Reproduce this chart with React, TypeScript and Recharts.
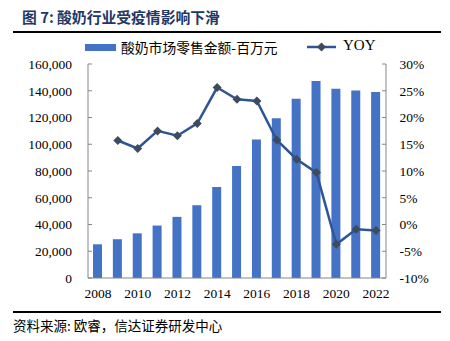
import { Bar, ComposedChart, Line, XAxis, YAxis } from "recharts";

const years = ["2008", "2009", "2010", "2011", "2012", "2013", "2014", "2015", "2016", "2017", "2018", "2019", "2020", "2021", "2022"];
const sales = [25200, 29000, 33400, 39200, 45700, 54400, 68100, 83800, 103500, 119500, 134000, 147200, 141500, 140200, 139000];
const yoy = [null, 15.7, 14.2, 17.5, 16.6, 18.9, 25.6, 23.4, 23.1, 15.8, 12.2, 9.7, -3.7, -0.9, -1.1];
const leftTicks = [0, 20000, 40000, 60000, 80000, 100000, 120000, 140000, 160000];
const rightTicks = [-10, -5, 0, 5, 10, 15, 20, 25, 30];

const BAR = "#4472C4";
const LINE = "#2F5597";
const MARK = "#3E4B5E";
const AXIS = "#868686";
const SERIF = '"Liberation Serif", "Times New Roman", serif';
const CJK = '"Noto Sans CJK SC", sans-serif';

const data = years.map((y, i) => ({ year: y, sales: sales[i], yoy: yoy[i] }));

const Diamond = (props: any) => {
  const { cx, cy } = props;
  if (cx == null || cy == null || props.value == null) return null;
  const r = 4.5;
  return <path d={`M${cx},${cy - r}L${cx + r},${cy}L${cx},${cy + r}L${cx - r},${cy}Z`} fill={MARK} />;
};

const tickStyle = { fontFamily: SERIF, fontSize: 13.5, fill: "#000" };

export default function App() {
  return (
    <div style={{ position: "absolute", left: 0, top: 0, width: 450, height: 341, background: "#fff" }}>
      <div style={{ position: "absolute", left: 22, top: 6, fontFamily: CJK, fontWeight: 700, fontSize: 14.8, color: "#1F3864" }}>
        图 7: 酸奶行业受疫情影响下滑
      </div>
      <div style={{ position: "absolute", left: 13, top: 31, width: 428, height: 1.5, background: "#000" }} />

      <div style={{ position: "absolute", left: 85, top: 44, width: 31, height: 7, background: BAR }} />
      <div style={{ position: "absolute", left: 121, top: 37, fontFamily: CJK, fontSize: 13.8, color: "#000" }}>
        酸奶市场零售金额-百万元
      </div>
      <svg style={{ position: "absolute", left: 305, top: 40 }} width={34} height={14}>
        <line x1={2} y1={7} x2={31} y2={7} stroke={LINE} strokeWidth={2.5} />
        <path d="M16.5,2.5L21,7L16.5,11.5L12,7Z" fill={MARK} />
      </svg>
      <div style={{ position: "absolute", left: 343, top: 37, fontFamily: SERIF, fontSize: 15, color: "#000" }}>YOY</div>

      <div style={{ position: "absolute", left: 0, top: 0 }}>
        <ComposedChart width={450} height={300} data={data} margin={{ top: 64, right: 14, bottom: 0, left: 28 }}>
          <XAxis
            dataKey="year"
            interval={1}
            tickLine={false}
            axisLine={{ stroke: AXIS }}
            tick={tickStyle}
            tickMargin={4}
            height={22}
          />
          <YAxis
            yAxisId="left"
            domain={[0, 160000]}
            ticks={leftTicks}
            tickFormatter={(v: number) => v.toLocaleString("en-US")}
            tickLine={{ stroke: AXIS }}
            tickSize={-4}
            tickMargin={20}
            axisLine={{ stroke: AXIS }}
            tick={tickStyle}
            width={60}
          />
          <YAxis
            yAxisId="right"
            orientation="right"
            domain={[-10, 30]}
            ticks={rightTicks}
            tickFormatter={(v: number) => `${v}%`}
            tickLine={{ stroke: AXIS }}
            tickSize={-4}
            tickMargin={17.5}
            axisLine={{ stroke: AXIS }}
            tick={{ ...tickStyle, textAnchor: "start" }}
            width={50}
          />
          <Bar yAxisId="left" dataKey="sales" fill={BAR} barSize={9} isAnimationActive={false} />
          <Line
            yAxisId="right"
            dataKey="yoy"
            stroke={LINE}
            strokeWidth={2.5}
            dot={<Diamond />}
            activeDot={false}
            connectNulls={false}
            isAnimationActive={false}
          />
        </ComposedChart>
      </div>

      <div style={{ position: "absolute", left: 13, top: 311, width: 428, height: 1.5, background: "#000" }} />
      <div style={{ position: "absolute", left: 13, top: 315, fontFamily: CJK, fontSize: 13.5, color: "#000" }}>
        资料来源: 欧睿，信达证券研发中心
      </div>
    </div>
  );
}
